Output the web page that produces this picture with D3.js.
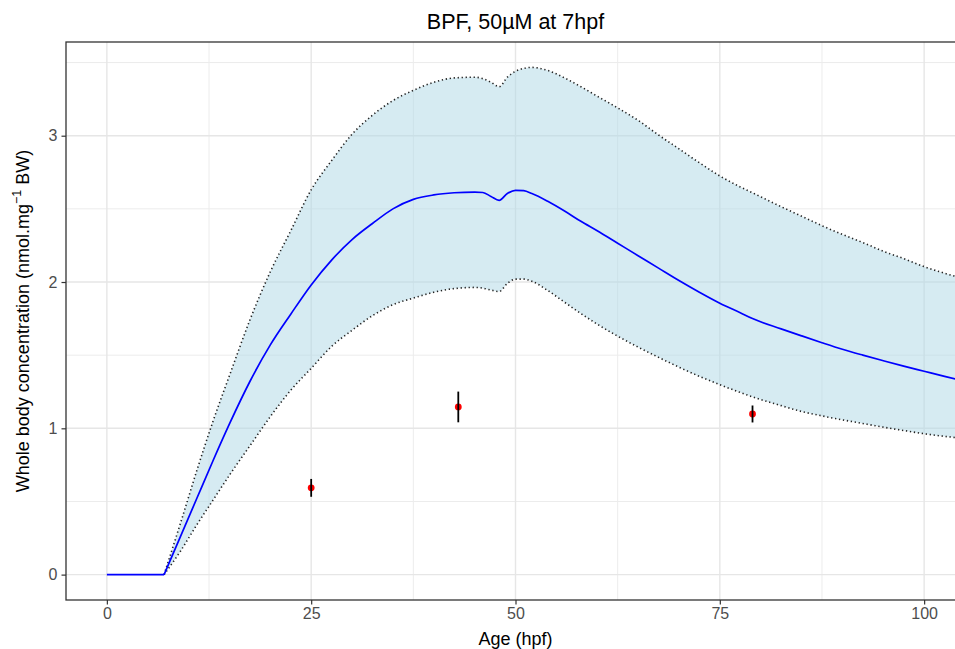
<!DOCTYPE html>
<html>
<head>
<meta charset="utf-8">
<script src="https://cdn.jsdelivr.net/npm/d3@7"></script>
<style>
  html, body { margin: 0; padding: 0; background: #ffffff; }
  svg { display: block; font-family: "Liberation Sans", Arial, sans-serif; }
</style>
</head>
<body>
<svg id="chart" width="955" height="649"></svg>
<script>
// Simulated whole-body concentration: median and 95% band over age (hpf)
const ageHpf = [0, 7, 9, 11, 13, 15, 17.5, 20, 22.5, 25, 27.5, 30, 32.5, 35, 37.5, 40, 42.5, 45, 46, 47, 48, 49, 50, 51, 52, 54, 56, 58, 60, 62.5, 65, 67.5, 70, 72.5, 75, 77.5, 79, 82.5, 85, 87.5, 90, 92.5, 95, 97.5, 100, 102.5, 105, 108];
const medianConc = [0, 0, 0.26, 0.52, 0.78, 1.03, 1.32, 1.57, 1.78, 1.98, 2.15, 2.29, 2.40, 2.50, 2.565, 2.595, 2.61, 2.615, 2.612, 2.585, 2.558, 2.605, 2.627, 2.624, 2.605, 2.55, 2.485, 2.415, 2.35, 2.265, 2.18, 2.095, 2.01, 1.93, 1.855, 1.79, 1.75, 1.68, 1.632, 1.585, 1.54, 1.50, 1.462, 1.425, 1.39, 1.355, 1.322, 1.285];
const lowerConc = [0, 0, 0.16, 0.34, 0.51, 0.68, 0.88, 1.08, 1.26, 1.41, 1.56, 1.67, 1.77, 1.845, 1.89, 1.93, 1.955, 1.963, 1.958, 1.945, 1.935, 1.99, 2.02, 2.02, 2.005, 1.94, 1.862, 1.785, 1.712, 1.63, 1.555, 1.485, 1.418, 1.355, 1.298, 1.245, 1.215, 1.155, 1.115, 1.085, 1.058, 1.033, 1.008, 0.985, 0.963, 0.945, 0.93, 0.912];
const upperConc = [0, 0, 0.35, 0.71, 1.05, 1.36, 1.74, 2.07, 2.35, 2.63, 2.83, 3.01, 3.14, 3.24, 3.31, 3.365, 3.395, 3.40, 3.39, 3.365, 3.335, 3.40, 3.44, 3.46, 3.467, 3.445, 3.395, 3.335, 3.27, 3.19, 3.105, 3.005, 2.91, 2.815, 2.725, 2.65, 2.61, 2.515, 2.45, 2.385, 2.325, 2.27, 2.21, 2.16, 2.105, 2.06, 2.02, 1.97];

// Measured concentrations (mean ± SD)
const obsAge = [25, 43, 79];
const obsMean = [0.593, 1.146, 1.098];
const obsSd = [0.061, 0.105, 0.058];

const xTicks = [0, 25, 50, 75, 100];
const yTicks = [0, 1, 2, 3];
const xMinor = [12.5, 37.5, 62.5, 87.5];
const yMinor = [0.5, 1.5, 2.5, 3.5];

const titleText = "BPF, 50µM at 7hpf";
const xTitle = "Age (hpf)";

const svg = d3.select("#chart");
const panel = { left: 66, top: 42, right: 965, bottom: 600 };

const x = d3.scaleLinear().domain([-5, 105]).range([panel.left, panel.right]);
const y = d3.scaleLinear().domain([-0.1735, 3.6405]).range([panel.bottom, panel.top]);

svg.append("defs").append("clipPath").attr("id", "panelClip")
  .append("rect")
  .attr("x", panel.left).attr("y", panel.top)
  .attr("width", panel.right - panel.left).attr("height", panel.bottom - panel.top);

// grid
const grid = svg.append("g");
grid.selectAll(".ymin").data(yMinor).join("line")
  .attr("x1", panel.left).attr("x2", panel.right)
  .attr("y1", d => y(d)).attr("y2", d => y(d))
  .attr("stroke", "#ececec").attr("stroke-width", 1);
grid.selectAll(".xmin").data(xMinor).join("line")
  .attr("y1", panel.top).attr("y2", panel.bottom)
  .attr("x1", d => x(d)).attr("x2", d => x(d))
  .attr("stroke", "#ececec").attr("stroke-width", 1);
grid.selectAll(".ymaj").data(yTicks).join("line")
  .attr("x1", panel.left).attr("x2", panel.right)
  .attr("y1", d => y(d)).attr("y2", d => y(d))
  .attr("stroke", "#e6e6e6").attr("stroke-width", 1.4);
grid.selectAll(".xmaj").data(xTicks).join("line")
  .attr("y1", panel.top).attr("y2", panel.bottom)
  .attr("x1", d => x(d)).attr("x2", d => x(d))
  .attr("stroke", "#e6e6e6").attr("stroke-width", 1.4);

const rows = ageHpf.map((t, i) => ({ t, m: medianConc[i], lo: lowerConc[i], hi: upperConc[i] }));
const afterDose = rows.filter(d => d.t >= 7);
const beforeDose = rows.filter(d => d.t <= 7);
const plot = svg.append("g").attr("clip-path", "url(#panelClip)");

// ribbon
plot.append("path").datum(afterDose)
  .attr("d", d3.area().x(d => x(d.t)).y0(d => y(d.lo)).y1(d => y(d.hi)).curve(d3.curveMonotoneX))
  .attr("fill", "#add8e6").attr("fill-opacity", 0.5);

// band limits (dotted)
const bandLine = key => d3.line().x(d => x(d.t)).y(d => y(d[key])).curve(d3.curveMonotoneX);
["hi", "lo"].forEach(k => {
  plot.append("path").datum(afterDose)
    .attr("d", bandLine(k))
    .attr("fill", "none").attr("stroke", "#222222")
    .attr("stroke-width", 1.6).attr("stroke-dasharray", "1.3,2.7")
    .attr("stroke-linecap", "butt");
});

// median: flat before exposure, then smooth uptake/elimination curve
plot.append("path").datum(beforeDose)
  .attr("d", d3.line().x(d => x(d.t)).y(d => y(d.m)))
  .attr("fill", "none").attr("stroke", "#0000ff").attr("stroke-width", 1.7);
plot.append("path").datum(afterDose)
  .attr("d", d3.line().x(d => x(d.t)).y(d => y(d.m)).curve(d3.curveMonotoneX))
  .attr("fill", "none").attr("stroke", "#0000ff").attr("stroke-width", 1.7)
  .attr("stroke-linejoin", "round");

// observations
const obs = obsAge.map((a, i) => ({ a, m: obsMean[i], s: obsSd[i] }));
plot.selectAll(".pt").data(obs).join("circle")
  .attr("cx", d => x(d.a)).attr("cy", d => y(d.m)).attr("r", 3.4)
  .attr("fill", "#ff0000");
plot.selectAll(".err").data(obs).join("line")
  .attr("x1", d => x(d.a)).attr("x2", d => x(d.a))
  .attr("y1", d => y(d.m - d.s)).attr("y2", d => y(d.m + d.s))
  .attr("stroke", "#000000").attr("stroke-width", 1.8);

// panel border
svg.append("rect")
  .attr("x", panel.left).attr("y", panel.top)
  .attr("width", panel.right - panel.left).attr("height", panel.bottom - panel.top)
  .attr("fill", "none").attr("stroke", "#333333").attr("stroke-width", 1.3);

// axes
const xAxis = svg.append("g").attr("transform", `translate(0,${panel.bottom})`)
  .call(d3.axisBottom(x).tickValues(xTicks).tickSize(4.5).tickPadding(3).tickFormat(d3.format("d")));
const yAxis = svg.append("g").attr("transform", `translate(${panel.left},0)`)
  .call(d3.axisLeft(y).tickValues(yTicks).tickSize(4.5).tickPadding(4).tickFormat(d3.format("d")));
[xAxis, yAxis].forEach(g => {
  g.select(".domain").remove();
  g.selectAll(".tick line").attr("stroke", "#333333").attr("stroke-width", 1.2);
  g.selectAll(".tick text").attr("fill", "#4d4d4d").style("font-size", "16px")
    .style("font-family", "'Liberation Sans', Arial, sans-serif");
});

// titles
svg.append("text")
  .attr("x", (panel.left + panel.right) / 2).attr("y", 29)
  .attr("text-anchor", "middle").attr("fill", "#000")
  .style("font-size", "21.5px").text(titleText);

svg.append("text")
  .attr("x", (panel.left + panel.right) / 2).attr("y", 645)
  .attr("text-anchor", "middle").attr("fill", "#000")
  .style("font-size", "18px").text(xTitle);

const yt = svg.append("text")
  .attr("transform", `translate(29,${(panel.top + panel.bottom) / 2}) rotate(-90)`)
  .attr("text-anchor", "middle").attr("fill", "#000")
  .style("font-size", "18px");
yt.append("tspan").text("Whole body concentration (nmol.mg");
yt.append("tspan").attr("dy", -8).style("font-size", "12.5px").text("\u22121");
yt.append("tspan").attr("dy", 8).text(" BW)");
</script>
</body>
</html>
